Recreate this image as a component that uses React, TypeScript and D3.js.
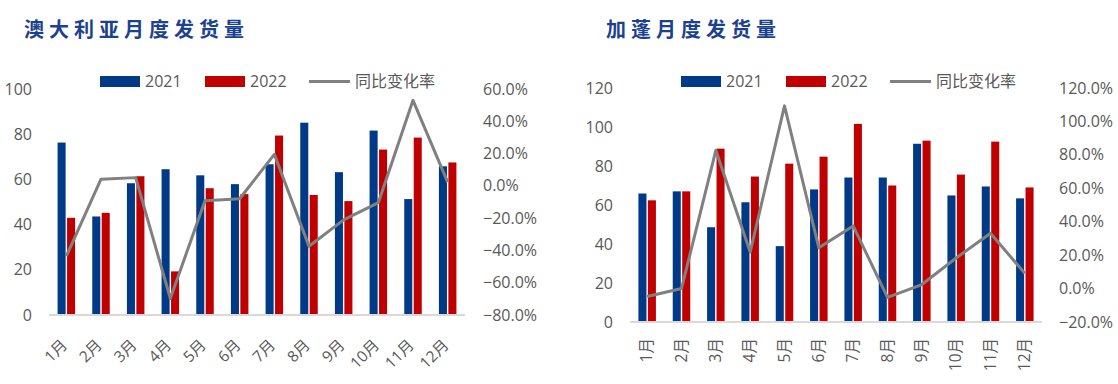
import React, { useEffect, useRef } from "react";
import * as d3 from "d3";

const months = ["1月", "2月", "3月", "4月", "5月", "6月", "7月", "8月", "9月", "10月", "11月", "12月"];

// 澳大利亚
const au2021 = [76.3, 43.6, 58.3, 64.5, 61.8, 57.9, 66.7, 85.1, 63.2, 81.6, 51.3, 65.8];
const au2022 = [43.0, 45.2, 61.4, 19.3, 56.1, 53.5, 79.4, 53.1, 50.4, 73.2, 78.5, 67.5];
const auYoy = [-43.6, 4.1, 5.1, -69.8, -9.2, -8.0, 19.5, -37.4, -21.1, -10.4, 53.0, 2.3];
const auLeftTicks = [0, 20, 40, 60, 80, 100];
const auRightTicks = [-80, -60, -40, -20, 0, 20, 40, 60];

// 加蓬
const ga2021 = [65.9, 67.0, 48.6, 61.4, 38.9, 68.0, 74.1, 74.1, 91.4, 64.9, 69.5, 63.4];
const ga2022 = [62.4, 67.0, 88.9, 74.6, 81.2, 84.8, 101.6, 70.0, 93.0, 75.6, 92.5, 69.0];
const gaYoy = [-4.7, 0.0, 82.7, 21.8, 109.3, 24.4, 37.5, -5.3, 2.4, 18.3, 33.1, 9.1];
const gaLeftTicks = [0, 20, 40, 60, 80, 100, 120];
const gaRightTicks = [-20, 0, 20, 40, 60, 80, 100, 120];

const BLUE = "#003a87";
const RED = "#c00000";
const GREY = "#808080";
const TEXT = "#595959";
const FONT = "'Open Sans', 'Noto Sans CJK SC', sans-serif";

type PanelProps = {
  title: string;
  s2021: number[];
  s2022: number[];
  yoy: number[];
  leftTicks: number[];
  rightTicks: number[];
  box: { left: number; right: number; top: number; bottom: number };
  titleX: number;
  legendX: number;
  leftLabelX: number;
  rightLabelX: number;
  rotate: number;
};

const Panel = (p: PanelProps) => {
  const gRef = useRef<SVGGElement>(null);

  useEffect(() => {
    const g = d3.select(gRef.current);
    g.selectAll("*").remove();
    const { left, right, top, bottom } = p.box;

    const x = d3.scaleBand().domain(months).range([left, right]);
    const bw = x.bandwidth();
    const xs = d3.scaleBand().domain(["2021", "2022"]).range([bw / 2 - 8.75, bw / 2 + 8.75]).paddingInner(0.15);
    const yL = d3.scaleLinear().domain(d3.extent(p.leftTicks) as [number, number]).range([bottom, top]);
    const yR = d3.scaleLinear().domain(d3.extent(p.rightTicks) as [number, number]).range([bottom, top]);

    // title
    g.append("text")
      .attr("x", p.titleX)
      .attr("y", 37)
      .attr("fill", "#1b4190")
      .attr("font-family", "'Noto Sans CJK SC', sans-serif")
      .attr("font-weight", 700)
      .attr("font-size", 20)
      .attr("letter-spacing", 5)
      .text(p.title);

    // bars
    const rows = months.map((m, i) => ({ m, a: p.s2021[i], b: p.s2022[i] }));
    g.selectAll(".b21")
      .data(rows)
      .join("rect")
      .attr("x", d => x(d.m)! + xs("2021")!)
      .attr("y", d => yL(d.a))
      .attr("width", xs.bandwidth())
      .attr("height", d => bottom - yL(d.a))
      .attr("fill", BLUE);
    g.selectAll(".b22")
      .data(rows)
      .join("rect")
      .attr("x", d => x(d.m)! + xs("2022")!)
      .attr("y", d => yL(d.b))
      .attr("width", xs.bandwidth())
      .attr("height", d => bottom - yL(d.b))
      .attr("fill", RED);

    // axis line
    g.append("line")
      .attr("x1", left).attr("x2", right)
      .attr("y1", bottom).attr("y2", bottom)
      .attr("stroke", "#d9d9d9").attr("stroke-width", 2);

    // yoy line
    const line = d3.line<number>()
      .x((_, i) => x(months[i])! + bw / 2)
      .y(d => yR(d));
    g.append("path")
      .attr("d", line(p.yoy))
      .attr("fill", "none")
      .attr("stroke", GREY)
      .attr("stroke-width", 3)
      .attr("stroke-linejoin", "round");

    // left ticks
    g.selectAll(".lt")
      .data(p.leftTicks)
      .join("text")
      .attr("x", p.leftLabelX)
      .attr("y", d => yL(d))
      .attr("dy", "0.35em")
      .attr("text-anchor", "end")
      .attr("font-family", FONT).attr("font-size", 16).attr("fill", TEXT)
      .text(d => d);

    // right ticks
    g.selectAll(".rt")
      .data(p.rightTicks)
      .join("text")
      .attr("x", p.rightLabelX)
      .attr("y", d => yR(d))
      .attr("dy", "0.35em")
      .attr("font-family", FONT).attr("font-size", 16).attr("fill", TEXT)
      .text(d => d3.format(".1f")(d) + "%");

    // month labels
    g.selectAll(".ml")
      .data(months)
      .join("text")
      .attr("transform", d => p.rotate === -90
        ? `translate(${x(d)! + bw / 2 + 5},${bottom + 16}) rotate(-90)`
        : `translate(${x(d)! + bw / 2 + 2},${bottom + 31}) rotate(-45)`)
      .attr("text-anchor", "end")
      .attr("font-family", FONT).attr("font-size", 15.5).attr("fill", TEXT)
      .text(d => d);

    // legend
    const lx = p.legendX;
    const lg = g.append("g").attr("font-family", FONT).attr("font-size", 16).attr("fill", TEXT);
    lg.append("rect").attr("x", lx).attr("y", 76).attr("width", 40).attr("height", 11).attr("fill", BLUE);
    lg.append("text").attr("x", lx + 45).attr("y", 87).text("2021");
    lg.append("rect").attr("x", lx + 105).attr("y", 76).attr("width", 40).attr("height", 11).attr("fill", RED);
    lg.append("text").attr("x", lx + 150).attr("y", 87).text("2022");
    lg.append("line").attr("x1", lx + 209).attr("x2", lx + 250).attr("y1", 81.5).attr("y2", 81.5)
      .attr("stroke", GREY).attr("stroke-width", 3);
    lg.append("text").attr("x", lx + 255).attr("y", 87).text("同比变化率");
  }, [p]);

  return <g ref={gRef} />;
};

export default function App() {
  return (
    <svg width={1118} height={384} style={{ position: "absolute", left: 0, top: 0, background: "#fff" }}>
      <Panel
        title="澳大利亚月度发货量"
        s2021={au2021}
        s2022={au2022}
        yoy={auYoy}
        leftTicks={auLeftTicks}
        rightTicks={auRightTicks}
        box={{ left: 49, right: 465, top: 89, bottom: 315 }}
        titleX={24}
        legendX={100}
        leftLabelX={32}
        rightLabelX={483}
        rotate={-45}
      />
      <Panel
        title="加蓬月度发货量"
        s2021={ga2021}
        s2022={ga2022}
        yoy={gaYoy}
        leftTicks={gaLeftTicks}
        rightTicks={gaRightTicks}
        box={{ left: 630, right: 1042, top: 88, bottom: 322 }}
        titleX={606}
        legendX={681}
        leftLabelX={613}
        rightLabelX={1059}
        rotate={-90}
      />
    </svg>
  );
}
